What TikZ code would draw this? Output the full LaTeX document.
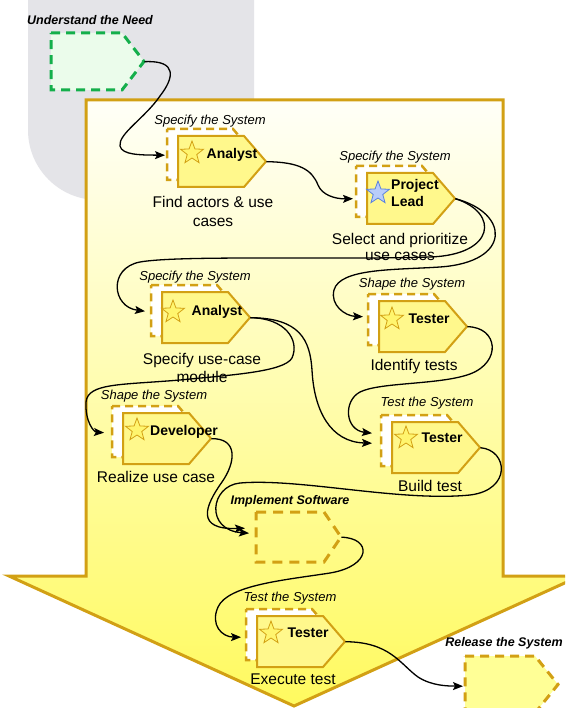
\documentclass[tikz,border=0pt]{standalone}
\usepackage{fontspec}
\setmainfont{Liberation Sans}
\usetikzlibrary{arrows.meta,calc,shapes.geometric}
\definecolor{gold}{RGB}{210,160,20}
\definecolor{graybg}{RGB}{228,228,232}
\definecolor{fronty}{RGB}{255,248,140}
\definecolor{greenb}{RGB}{20,175,75}
\definecolor{greenf}{RGB}{235,252,235}
\definecolor{relf}{RGB}{255,255,150}
\definecolor{starf}{RGB}{255,245,110}
\definecolor{bluestarf}{RGB}{185,205,250}
\definecolor{bluestard}{RGB}{90,130,220}
\definecolor{arrtop}{RGB}{255,255,248}
\definecolor{arrbot}{RGB}{255,250,95}
\newcommand\pentpath[6]{\path[#1] (#2,#3) -- ++({#4-#6},0) -- ++(#6,{#5/2}) -- ++(-#6,{#5/2}) -- ++({#6-#4},0) -- cycle;}
\tikzset{
  backbox/.style={draw=gold, line width=2.5pt, dash pattern=on 8pt off 5pt, fill=white},
  frontbox/.style={draw=gold, line width=2pt, fill=fronty},
  anchorbox/.style={inner sep=0pt, minimum width=88pt, minimum height=51pt, anchor=north west},
  conn/.style={line width=1.3pt, -{Stealth[length=10pt,width=8pt,inset=2pt]}},
  lab/.style={font=\fontsize{13}{15}\selectfont\itshape, inner sep=0pt},
  phase/.style={font=\fontsize{12.5}{15}\selectfont\bfseries\itshape, inner sep=0pt},
  capt/.style={font=\fontsize{15.5}{19}\selectfont, align=center, inner sep=0pt},
  ttl/.style={font=\fontsize{14}{17}\selectfont\bfseries, inner sep=0pt},
  ystar/.style={star, star points=5, star point ratio=2.4, minimum size=24pt, inner sep=0pt, draw=gold, fill=starf, line width=0.8pt},
  bstar/.style={star, star points=5, star point ratio=2.4, minimum size=24pt, inner sep=0pt, draw=bluestard, fill=bluestarf, line width=0.8pt}
}
\newcommand\activity[3]{%
  \pentpath{backbox}{#2-11}{#3-7}{88}{51}{22}
  \pentpath{frontbox}{#2}{#3}{88}{51}{22}
  \node[anchorbox] (#1) at (#2,#3) {};
}
\begin{document}
\begin{tikzpicture}[x=1pt,y=-1pt]
\useasboundingbox (0,0) rectangle (565,708);
\clip (0,0) rectangle (565,708);
\fill[white] (0,0) rectangle (565,708);
% gray phase background
\fill[graybg] (28,0) -- (28,130) .. controls (28,168.7) and (59.3,200) .. (98,200) -- (254,200) -- (254,0) -- cycle;
% big arrow
\path[draw=gold, line width=3pt, top color=arrtop, bottom color=arrbot, line join=miter]
  (86,100) -- (503,100) -- (503,576) -- (580,576) -- (294,706) -- (9,576) -- (86,576) -- cycle;

% Understand the Need
\pentpath{draw=greenb, line width=3pt, dash pattern=on 9pt off 6pt, fill=greenf}{51}{33}{93}{57}{22}
\node[anchorbox, minimum width=93pt, minimum height=57pt] (n9) at (51,33) {};
\node[phase] (l9) at (90,20) {Understand the Need};

% activities
\activity{n1}{178}{136}
\activity{n2}{367}{173}
\activity{n3}{162}{292}
\activity{n4}{379}{301}
\activity{n5}{123}{413}
\activity{n6}{392}{422}
\activity{n8}{257}{616}

% Implement Software
\pentpath{draw=gold, line width=3pt, dash pattern=on 10pt off 7pt}{256}{512}{85}{50}{17}
\node[anchorbox, minimum width=85pt, minimum height=50pt] (n7) at (256,512) {};
\node[phase] (l7) at (290,501) {Implement Software};

% Release the System
\pentpath{draw=gold, line width=3pt, dash pattern=on 9pt off 6pt, fill=relf}{465}{656}{93}{57}{23}
\node[anchorbox, minimum width=93pt, minimum height=57pt] (n10) at (465,656) {};
\node[phase] (l10) at (504,643) {Release the System};

% stars
\node[ystar] (s1) at (192,153) {};
\node[bstar] (s2) at (378,193) {};
\node[ystar] (s3) at (173,312) {};
\node[ystar] (s4) at (392,319) {};
\node[ystar] (s5) at (137,430) {};
\node[ystar] (s6) at (406,438) {};
\node[ystar] (s8) at (271,633) {};

% titles
\node[ttl] (t1) at (232,155) {Analyst};
\node[ttl, align=left, anchor=west] (t2) at (391,193) {Project\\Lead};
\node[ttl] (t3) at (217,312) {Analyst};
\node[ttl] (t4) at (429,319) {Tester};
\node[ttl] (t5) at (184,432) {Developer};
\node[ttl] (t6) at (442,438) {Tester};
\node[ttl] (t8) at (308,633) {Tester};

% labels above
\node[lab] (l1) at (210,121) {Specify the System};
\node[lab] (l2) at (395,157) {Specify the System};
\node[lab] (l3) at (195,277) {Specify the System};
\node[lab] (l4) at (412,284) {Shape the System};
\node[lab] (l5) at (154,396) {Shape the System};
\node[lab] (l6) at (427,403) {Test the System};
\node[lab] (l8) at (290,598) {Test the System};

% captions
\node[capt, font=\fontsize{15.5}{19.5}\selectfont] (c1) at (213,211.5) {Find actors \& use\\cases};
\node[capt, font=\fontsize{15.5}{16.5}\selectfont] (c2) at (400,247) {Select and prioritize\\use cases};
\node[capt, font=\fontsize{15.5}{18}\selectfont] (c3) at (202,368) {Specify use-case\\module};
\node[capt] (c4) at (414,366) {Identify tests};
\node[capt] (c5) at (156,477) {Realize use case};
\node[capt] (c6) at (430,486) {Build test};
\node[capt] (c8) at (293,679) {Execute test};

% connectors
\draw[conn] (n9.east) .. controls (178,60) and (174,78) .. (160,96) .. controls (145,118) and (118,134) .. (120,146) .. controls (122,155) and (140,155) .. ($(n1.west)+(-13,-6.5)$);
\draw[conn] (n1.east) .. controls (300,162) and (312,170) .. (318,185) .. controls (322,195) and (335,199) .. ($(n2.west)+(-14,0)$);
\draw[conn] (n2.east) .. controls (500,213) and (495,255) .. (430,257) .. controls (330,260) and (180,255) .. (140,262) .. controls (108,268) and (112,307) .. ($(n3.west)+(-17,-6.5)$);
\draw[conn] (n2.east) .. controls (510,213) and (512,262) .. (440,267) .. controls (395,270) and (340,268) .. (334,290) .. controls (330,305) and (345,316) .. ($(n4.west)+(-16,-10)$);
\draw[conn] (n3.east) .. controls (285,318) and (300,340) .. (292,358) .. controls (284,372) and (230,375) .. (180,380) .. controls (120,385) and (88,383) .. (86,402) .. controls (85,422) and (94,432) .. ($(n5.west)+(-19,-6)$);
\draw[conn] (n3.east) .. controls (300,318) and (310,340) .. (312,370) .. controls (314,410) and (330,442) .. ($(n6.west)+(-20,-4.5)$);
\draw[conn] (n4.east) .. controls (498,327) and (502,362) .. (470,374) .. controls (440,385) and (380,382) .. (360,392) .. controls (343,401) and (345,430) .. ($(n6.west)+(-20,-14.5)$);
\draw[conn] (n5.east) .. controls (238,438) and (236,462) .. (222,482) .. controls (205,506) and (195,530) .. ($(n7.west)+(-11,-9)$);
\draw[conn] (n6.east) .. controls (508,450) and (512,490) .. (470,495) .. controls (400,502) and (300,478) .. (240,483) .. controls (210,486) and (205,530) .. ($(n7.west)+(-7,-4)$);
\draw[conn] (n7.east) .. controls (372,538) and (372,566) .. (330,573) .. controls (285,580) and (228,585) .. (218,607) .. controls (210,625) and (222,637) .. ($(n8.west)+(-16,-4.5)$);
\draw[conn] (n8.east) .. controls (390,642) and (400,664) .. (418,677) .. controls (432,686) and (448,686) .. ($(n10.west)+(-2,1.5)$);
\end{tikzpicture}
\end{document}
